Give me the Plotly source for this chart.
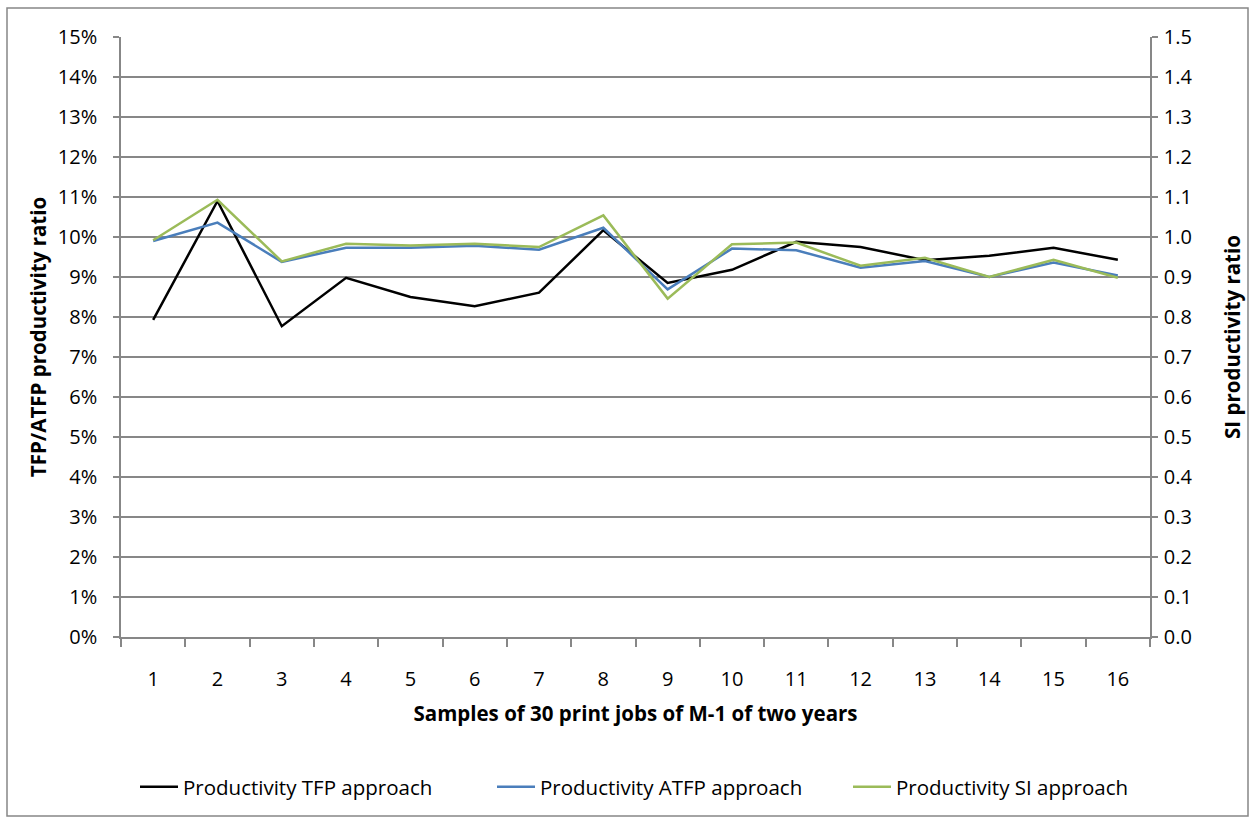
import plotly.graph_objects as go

samples = [str(i) for i in range(1, 17)]
tfp = [7.93, 10.90, 7.77, 8.98, 8.50, 8.27, 8.61, 10.17, 8.85, 9.18, 9.88, 9.75, 9.42, 9.53, 9.73, 9.43]
atfp = [9.90, 10.36, 9.38, 9.73, 9.73, 9.78, 9.68, 10.23, 8.69, 9.71, 9.67, 9.23, 9.40, 9.00, 9.36, 9.04]
si = [0.992, 1.093, 0.939, 0.983, 0.979, 0.983, 0.975, 1.054, 0.846, 0.982, 0.986, 0.928, 0.948, 0.900, 0.943, 0.898]

FONT = "Open Sans"
GRID = "#878787"

fig = go.Figure()
fig.add_trace(go.Scatter(x=samples, y=tfp, mode="lines", name="Productivity TFP approach",
                         line=dict(color="#000000", width=2.5), legend="legend"))
fig.add_trace(go.Scatter(x=samples, y=atfp, mode="lines", name="Productivity ATFP approach",
                         line=dict(color="#4A7EBB", width=2.5), legend="legend2"))
fig.add_trace(go.Scatter(x=samples, y=si, mode="lines", name="Productivity SI approach",
                         line=dict(color="#9BBB59", width=2.5), yaxis="y2", legend="legend3"))

def leg(px):
    return dict(orientation="h", x=(px - 121) / 1029, xanchor="left", y=-0.25, yanchor="middle",
                font=dict(size=20.5), itemwidth=38, bgcolor="rgba(0,0,0,0)")

fig.update_layout(
    width=1256, height=820,
    margin=dict(l=121, r=106, t=37, b=183),
    paper_bgcolor="white", plot_bgcolor="white",
    font=dict(family=FONT, size=20, color="#000000"),
    showlegend=True,
    legend=leg(135), legend2=leg(492), legend3=leg(848),
    xaxis=dict(
        type="category", categoryorder="array", categoryarray=samples,
        tickson="boundaries", ticks="outside", ticklen=8, tickcolor=GRID, tickwidth=1.5,
        showline=True, linecolor=GRID, linewidth=1.5, showgrid=False,
        ticklabelstandoff=23,
        title=dict(text="<b>Samples of 30 print jobs of M-1 of two years</b>", standoff=16,
                   font=dict(size=20.5)),
        range=[-0.5, 15.5],
    ),
    yaxis=dict(
        range=[0, 15], dtick=1, ticksuffix="%", tickformat="d",
        ticks="outside", ticklen=6, tickcolor=GRID, tickwidth=1.5,
        showline=True, linecolor=GRID, linewidth=1.5,
        showgrid=True, gridcolor=GRID, gridwidth=1.5, zeroline=False,
        ticklabelstandoff=12,
        title=dict(text="<b>TFP/ATFP productivity ratio</b>", standoff=6, font=dict(size=20.5)),
    ),
    yaxis2=dict(
        overlaying="y", side="right", range=[0, 1.5], dtick=0.1, tickformat=".1f",
        ticks="outside", ticklen=6, tickcolor=GRID, tickwidth=1.5,
        showline=True, linecolor=GRID, linewidth=1.5, showgrid=False, zeroline=False,
        ticklabelstandoff=2,
        title=dict(text="<b>SI productivity ratio</b>", standoff=34, font=dict(size=20.5)),
    ),
    shapes=[dict(type="rect", xref="paper", yref="paper",
                 x0=(7 - 121) / 1029, x1=(1248 - 121) / 1029,
                 y0=(637 - 816) / 600, y1=(637 - 8) / 600,
                 line=dict(color=GRID, width=1.5), fillcolor="rgba(0,0,0,0)", layer="below")],
)

fig.write_html("out.html")
